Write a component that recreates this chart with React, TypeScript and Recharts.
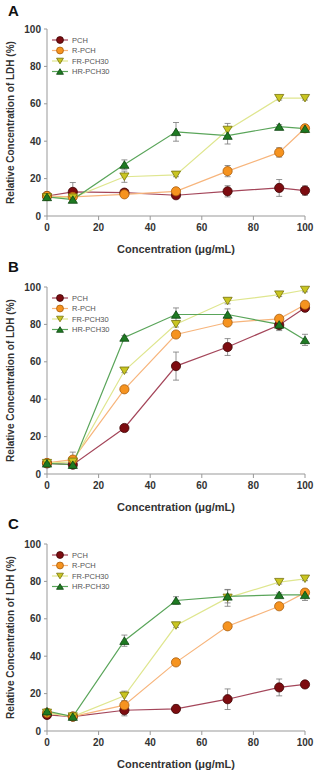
import { type FC } from 'react'
import { LineChart, Line, XAxis, YAxis, ErrorBar } from 'recharts'

const concentrations = [0, 10, 30, 50, 70, 90, 100]
const seriesNames = ['PCH', 'R-PCH', 'FR-PCH30', 'HR-PCH30']
const xTicks = [0, 20, 40, 60, 80, 100]
const yTicks = [0, 20, 40, 60, 80, 100]

// panel A
const aPch = [10.7, 12.9, 12.5, 11.1, 13.2, 15.0, 13.6]
const aPchErr = [1, 5, 1.5, 1, 3, 4.5, 2.5]
const aRpch = [10.7, 10.2, 11.6, 13.2, 24.0, 34.0, 46.9]
const aRpchErr = [1, 1, 1, 1.5, 3, 2.5, 1.5]
const aFr = [10.0, 9.8, 21.0, 22.0, 46.0, 63.0, 63.0]
const aFrErr = [1, 1, 3, 1, 3.5, 1, 1]
const aHr = [10.2, 8.8, 27.5, 45.0, 43.0, 47.8, 46.7]
const aHrErr = [1, 1.5, 2.5, 5, 4.5, 1, 1]

// panel B
const bPch = [5.7, 5.0, 24.6, 57.7, 67.9, 79.7, 88.9]
const bPchErr = [1, 1, 1, 7.5, 4.5, 3, 2]
const bRpch = [5.9, 7.7, 45.3, 74.6, 81.0, 83.0, 90.5]
const bRpchErr = [1, 4, 1, 1, 1.5, 1.5, 1.5]
const bFr = [5.8, 6.5, 55.2, 80.1, 92.5, 95.9, 98.4]
const bFrErr = [1, 1, 1, 1.5, 1.5, 1, 1]
const bHr = [5.7, 5.0, 73.0, 85.3, 85.3, 80.0, 71.7]
const bHrErr = [1, 1, 1, 3.5, 3, 2.5, 3]

// panel C
const cPch = [8.6, 7.7, 11.1, 11.8, 17.0, 23.3, 24.9]
const cPchErr = [1, 1, 3, 2, 5.5, 4.5, 1]
const cRpch = [9.7, 7.7, 13.8, 36.7, 56.0, 66.7, 74.0]
const cRpchErr = [1, 1, 2, 1, 1, 1, 1.5]
const cFr = [9.7, 7.7, 18.8, 56.4, 71.2, 79.6, 81.4]
const cFrErr = [1, 1.5, 2.5, 1, 4.5, 1, 1]
const cHr = [10.6, 7.7, 48.3, 69.8, 72.0, 72.8, 72.8]
const cHrErr = [1, 1, 3, 2, 3.5, 1, 3]

const styles = [
  { line: '#a4465a', fill: '#7d0c10', stroke: '#3f0505', shape: 'circle' },
  { line: '#f7b57c', fill: '#f6931f', stroke: '#a85d0d', shape: 'circle' },
  { line: '#dfe68f', fill: '#c9c521', stroke: '#76720c', shape: 'down' },
  { line: '#5aa55a', fill: '#1e7a22', stroke: '#0c4410', shape: 'up' },
]

const FONT = '"Liberation Sans", Arial, sans-serif'

const buildRows = (vals: number[][], errs: number[][]) =>
  concentrations.map((c, i) => ({
    x: c,
    s0: vals[0][i], e0: errs[0][i],
    s1: vals[1][i], e1: errs[1][i],
    s2: vals[2][i], e2: errs[2][i],
    s3: vals[3][i], e3: errs[3][i],
  }))

const Marker = ({ cx, cy, idx, size = 1 }: { cx: number; cy: number; idx: number; size?: number }) => {
  const st = styles[idx]
  if (st.shape === 'circle') {
    return <circle cx={cx} cy={cy} r={4.6 * size} fill={st.fill} stroke={st.stroke} strokeWidth={0.8} />
  }
  const h = 7.5 * size
  const w = 4.6 * size
  const pts =
    st.shape === 'down'
      ? `${cx - w},${cy - h / 2} ${cx + w},${cy - h / 2} ${cx},${cy + h / 2}`
      : `${cx - w},${cy + h / 2} ${cx + w},${cy + h / 2} ${cx},${cy - h / 2}`
  return <polygon points={pts} fill={st.fill} stroke={st.stroke} strokeWidth={0.8} />
}

const LegendBox: FC = () => (
  <svg width={80} height={45} style={{ position: 'absolute', left: 50, top: 33, overflow: 'visible' }}>
    {seriesNames.map((name, i) => {
      const y = 7 + i * 10.5
      return (
        <g key={name}>
          <line x1={2} x2={18} y1={y} y2={y} stroke={styles[i].line} strokeWidth={1.2} />
          <Marker cx={10} cy={y} idx={i} size={0.75} />
          <text x={22} y={y + 2.6} fontSize={7.5} fill="#555" fontFamily={FONT}>
            {name}
          </text>
        </g>
      )
    })}
  </svg>
)

const Panel: FC<{ letter: string; top: number; vals: number[][]; errs: number[][] }> = ({ letter, top, vals, errs }) => {
  const data = buildRows(vals, errs)
  const tickStyle = { fontSize: 10, fontWeight: 700, fill: '#333', fontFamily: FONT }
  return (
    <div style={{ position: 'absolute', left: 0, top, width: 322, height: 257 }}>
      <LineChart width={322} height={257} data={data} margin={{ top: 29, right: 17, bottom: 0, left: 0 }}>
        <XAxis
          dataKey="x"
          type="number"
          domain={[0, 100]}
          ticks={xTicks}
          height={41}
          tickSize={4}
          tickMargin={4}
          stroke="#999"
          tick={tickStyle}
          label={{
            value: 'Concentration (μg/mL)',
            position: 'insideBottom',
            offset: 4,
            style: { fontSize: 11, fontWeight: 700, fill: '#333', fontFamily: FONT },
          }}
        />
        <XAxis xAxisId="top" dataKey="x" type="number" domain={[0, 100]} orientation="top" height={0} tick={false} tickLine={false} stroke="#aaa" />
        <YAxis
          domain={[0, 100]}
          ticks={yTicks}
          width={47}
          tickSize={3}
          tickMargin={3}
          stroke="#999"
          tick={tickStyle}
          label={{
            value: 'Relative Concentration of LDH (%)',
            angle: -90,
            position: 'insideLeft',
            offset: 10,
            style: { textAnchor: 'middle', fontSize: 10, fontWeight: 700, fill: '#333', fontFamily: FONT },
          }}
        />
        <YAxis yAxisId="right" orientation="right" domain={[0, 100]} width={0} tick={false} tickLine={false} stroke="#aaa" />
        {[0, 1, 2, 3].map((i) => (
          <Line
            key={i}
            dataKey={`s${i}`}
            type="linear"
            stroke={styles[i].line}
            strokeWidth={1.2}
            isAnimationActive={false}
            dot={(p: any) => <Marker key={`${i}-${p.index}`} cx={p.cx} cy={p.cy} idx={i} />}
            activeDot={false}
          >
            <ErrorBar dataKey={`e${i}`} direction="y" width={3} stroke="#777" strokeWidth={0.8} />
          </Line>
        ))}
      </LineChart>
      <LegendBox />
      <div
        style={{
          position: 'absolute',
          left: 8,
          top: letter === 'A' ? 2 : 0,
          fontFamily: FONT,
          fontWeight: 700,
          fontSize: 15,
          color: '#111',
        }}
      >
        {letter}
      </div>
    </div>
  )
}

export default function App() {
  return (
    <div style={{ position: 'absolute', left: 0, top: 0, width: 322, height: 775, background: '#fff' }}>
      <Panel letter="A" top={0} vals={[aPch, aRpch, aFr, aHr]} errs={[aPchErr, aRpchErr, aFrErr, aHrErr]} />
      <Panel letter="B" top={258} vals={[bPch, bRpch, bFr, bHr]} errs={[bPchErr, bRpchErr, bFrErr, bHrErr]} />
      <Panel letter="C" top={515} vals={[cPch, cRpch, cFr, cHr]} errs={[cPchErr, cRpchErr, cFrErr, cHrErr]} />
    </div>
  )
}
